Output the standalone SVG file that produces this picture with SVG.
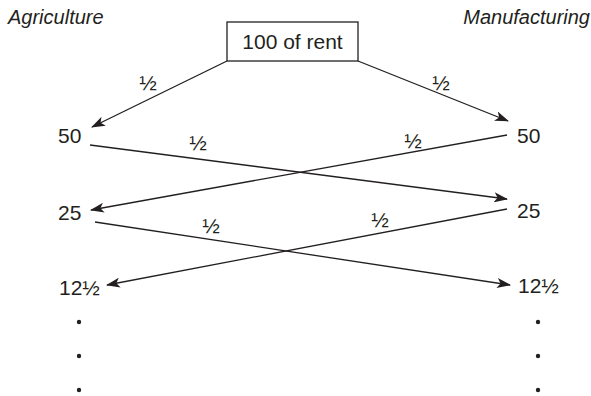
<svg xmlns="http://www.w3.org/2000/svg" width="591" height="396" viewBox="0 0 591 396">
  <defs>
    <marker id="arrow" viewBox="0 0 14 10" refX="13" refY="5" markerWidth="14" markerHeight="10" markerUnits="userSpaceOnUse" orient="auto">
      <path d="M0,0 L14,5 L0,10 L3.5,5 Z" fill="#231f20"/>
    </marker>
  </defs>
  <style>
    text { font-family: "Liberation Sans", Arial, sans-serif; fill: #231f20; }
    .head { font-size: 20px; font-style: italic; }
    .val { font-size: 21px; }
    .frac { font-size: 21px; }
    .conn line { stroke: #231f20; stroke-width: 1.3; fill: none; }
    .dot { fill: #231f20; }
  </style>
  <rect width="591" height="396" fill="#ffffff"/>

  <g id="sector-labels">
    <text class="head" x="8" y="24">Agriculture</text>
    <text class="head" x="590" y="24" text-anchor="end">Manufacturing</text>
  </g>

  <g id="rent">
    <rect x="227" y="22" width="131" height="39" fill="#ffffff" stroke="#231f20" stroke-width="1.3"/>
    <text class="val" x="292.5" y="49" text-anchor="middle">100 of rent</text>
  </g>

  <g id="agri-50"><text class="val" x="58" y="143">50</text></g>
  <g id="manu-50"><text class="val" x="517" y="143">50</text></g>
  <g id="agri-25"><text class="val" x="58" y="220">25</text></g>
  <g id="manu-25"><text class="val" x="517" y="218">25</text></g>
  <g id="agri-12"><text class="val" x="59" y="295">12½</text></g>
  <g id="manu-12"><text class="val" x="518" y="293">12½</text></g>

  <g id="agri-more">
    <circle class="dot" cx="79" cy="322" r="2.2"/>
    <circle class="dot" cx="79" cy="356" r="2.2"/>
    <circle class="dot" cx="79" cy="390" r="2.2"/>
  </g>
  <g id="manu-more">
    <circle class="dot" cx="538" cy="322" r="2.2"/>
    <circle class="dot" cx="538" cy="356" r="2.2"/>
    <circle class="dot" cx="538" cy="390" r="2.2"/>
  </g>

  <g id="connectors" class="conn">
    <line x1="227" y1="61" x2="92" y2="127" marker-end="url(#arrow)"/>
    <line x1="358" y1="61" x2="508" y2="121" marker-end="url(#arrow)"/>
    <line x1="90" y1="145" x2="507" y2="199" marker-end="url(#arrow)"/>
    <line x1="507" y1="135" x2="91" y2="210" marker-end="url(#arrow)"/>
    <line x1="95" y1="222" x2="510" y2="285" marker-end="url(#arrow)"/>
    <line x1="507" y1="209" x2="107" y2="285" marker-end="url(#arrow)"/>
  </g>

  <g id="shares">
    <text class="frac" x="148" y="90" text-anchor="middle">½</text>
    <text class="frac" x="441" y="90" text-anchor="middle">½</text>
    <text class="frac" x="198" y="150" text-anchor="middle">½</text>
    <text class="frac" x="413" y="148" text-anchor="middle">½</text>
    <text class="frac" x="211" y="233" text-anchor="middle">½</text>
    <text class="frac" x="380" y="227" text-anchor="middle">½</text>
  </g>
</svg>
